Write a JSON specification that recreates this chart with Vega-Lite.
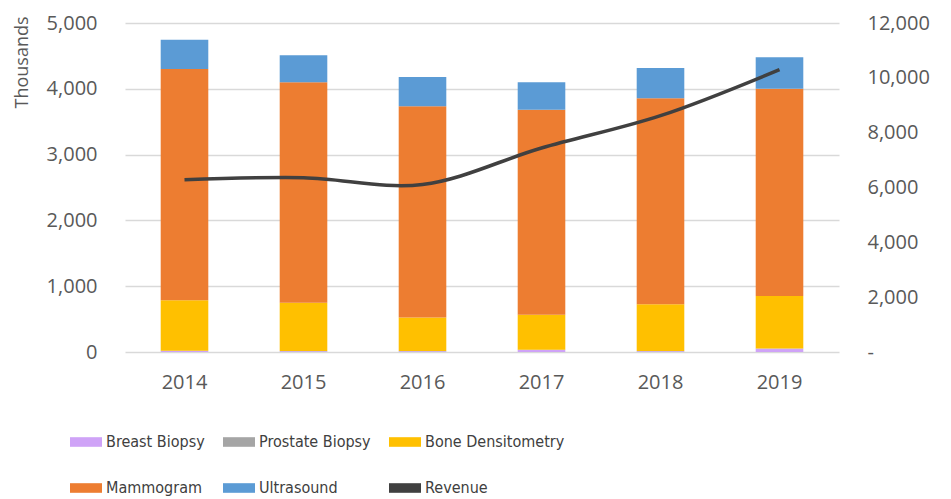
{
  "$schema": "https://vega.github.io/schema/vega-lite/v6.json",
  "width": 714,
  "height": 329,
  "autosize": {"type": "none"},
  "padding": {"left": 125, "top": 23, "right": 112, "bottom": 147},
  "background": "white",
  "config": {
    "view": {"stroke": null},
    "font": "Open Sans",
    "axis": {"labelColor": "#595959", "labelFontSize": 20, "titleColor": "#595959", "ticks": false, "domain": false}
  },
  "datasets": {
    "bars": [
      {"year": "2014", "type": "Breast Biopsy", "value": 15},
      {"year": "2014", "type": "Prostate Biopsy", "value": 5},
      {"year": "2014", "type": "Bone Densitometry", "value": 765},
      {"year": "2014", "type": "Mammogram", "value": 3515},
      {"year": "2014", "type": "Ultrasound", "value": 445},
      {"year": "2015", "type": "Breast Biopsy", "value": 10},
      {"year": "2015", "type": "Prostate Biopsy", "value": 5},
      {"year": "2015", "type": "Bone Densitometry", "value": 735},
      {"year": "2015", "type": "Mammogram", "value": 3350},
      {"year": "2015", "type": "Ultrasound", "value": 410},
      {"year": "2016", "type": "Breast Biopsy", "value": 10},
      {"year": "2016", "type": "Prostate Biopsy", "value": 5},
      {"year": "2016", "type": "Bone Densitometry", "value": 510},
      {"year": "2016", "type": "Mammogram", "value": 3210},
      {"year": "2016", "type": "Ultrasound", "value": 445},
      {"year": "2017", "type": "Breast Biopsy", "value": 30},
      {"year": "2017", "type": "Prostate Biopsy", "value": 5},
      {"year": "2017", "type": "Bone Densitometry", "value": 530},
      {"year": "2017", "type": "Mammogram", "value": 3115},
      {"year": "2017", "type": "Ultrasound", "value": 420},
      {"year": "2018", "type": "Breast Biopsy", "value": 10},
      {"year": "2018", "type": "Prostate Biopsy", "value": 5},
      {"year": "2018", "type": "Bone Densitometry", "value": 710},
      {"year": "2018", "type": "Mammogram", "value": 3130},
      {"year": "2018", "type": "Ultrasound", "value": 460},
      {"year": "2019", "type": "Breast Biopsy", "value": 50},
      {"year": "2019", "type": "Prostate Biopsy", "value": 5},
      {"year": "2019", "type": "Bone Densitometry", "value": 795},
      {"year": "2019", "type": "Mammogram", "value": 3150},
      {"year": "2019", "type": "Ultrasound", "value": 480}
    ],
    "revenue": [
      {"year": "2014", "series": "Revenue", "revenue": 6280},
      {"year": "2015", "series": "Revenue", "revenue": 6360},
      {"year": "2016", "series": "Revenue", "revenue": 6110},
      {"year": "2017", "series": "Revenue", "revenue": 7440},
      {"year": "2018", "series": "Revenue", "revenue": 8620},
      {"year": "2019", "series": "Revenue", "revenue": 10300}
    ]
  },
  "encoding": {
    "x": {
      "field": "year", "type": "nominal",
      "scale": {"paddingInner": 0.6, "paddingOuter": 0.3},
      "axis": {"title": null, "labelAngle": 0, "labelPadding": 20, "grid": false}
    }
  },
  "layer": [
    {
      "data": {"name": "bars"},
      "transform": [
        {"calculate": "indexof(['Breast Biopsy','Prostate Biopsy','Bone Densitometry','Mammogram','Ultrasound'], datum.type)", "as": "stackorder"}
      ],
      "mark": {"type": "bar"},
      "encoding": {
        "y": {
          "field": "value", "type": "quantitative", "stack": "zero",
          "scale": {"domain": [0, 5000]},
          "axis": {
            "title": "Thousands", "titleFontSize": 18, "titleFontWeight": "normal",
            "titleAngle": -90, "titleX": -103, "titleY": 39, "titleAlign": "center", "titleBaseline": "middle",
            "values": [0, 1000, 2000, 3000, 4000, 5000],
            "labelExpr": "format(datum.value, ',')", "labelOverlap": false,
            "labelPadding": 28, "grid": true, "gridColor": "#d9d9d9", "gridWidth": 1.5
          }
        },
        "order": {"field": "stackorder", "type": "quantitative", "sort": "ascending"},
        "color": {
          "field": "type", "type": "nominal",
          "sort": ["Breast Biopsy", "Prostate Biopsy", "Bone Densitometry", "Mammogram", "Ultrasound"],
          "scale": {
            "domain": ["Breast Biopsy", "Prostate Biopsy", "Bone Densitometry", "Mammogram", "Ultrasound", "Revenue"],
            "range": ["#CFA3F7", "#A5A5A5", "#FFC000", "#ED7D31", "#5B9BD5", "#404040"]
          },
          "legend": {
            "title": null, "orient": "none", "legendX": -55, "legendY": 403, "columns": 3, "direction": "horizontal",
            "gridAlign": "each", "columnPadding": 18, "rowPadding": 22,
            "symbolType": "M-1,-0.3H1V0.3H-1Z", "symbolSize": 1024, "symbolStrokeWidth": 0,
            "labelFont": "DejaVu Sans Condensed, Open Sans", "labelFontSize": 16, "labelColor": "#404040", "labelOffset": 4
          }
        }
      }
    },
    {
      "data": {"name": "revenue"},
      "mark": {"type": "line", "interpolate": "catmull-rom", "strokeWidth": 3.5},
      "encoding": {
        "y": {
          "field": "revenue", "type": "quantitative",
          "scale": {"domain": [0, 12000]},
          "axis": {
            "orient": "right", "title": null, "values": [0, 2000, 4000, 6000, 8000, 10000, 12000],
            "labelExpr": "datum.value == 0 ? '-' : format(datum.value, ',')", "labelOverlap": false,
            "labelPadding": 28, "grid": false
          }
        },
        "color": {"field": "series", "type": "nominal"}
      }
    }
  ],
  "resolve": {"scale": {"y": "independent"}}
}
